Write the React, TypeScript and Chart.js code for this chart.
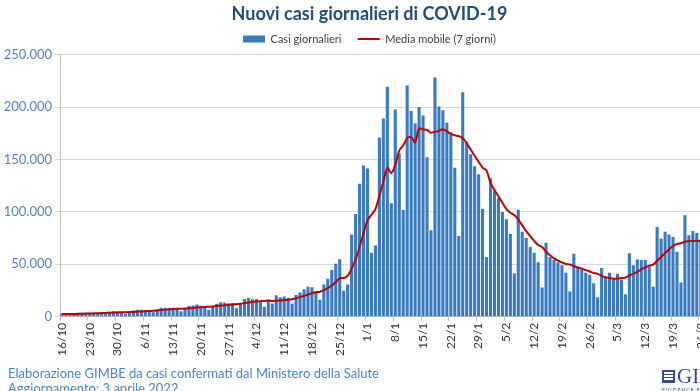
import React, { useEffect, useRef } from 'react';
import { Chart, registerables } from 'chart.js';

Chart.register(...registerables);

// Casi giornalieri (16/10/2021 - 2/4/2022)
const casiOttobre = [2983, 2437, 1597, 2697, 3702, 3794, 3882, 3725, 3154, 2535, 3655, 4598, 4866, 5335, 4878, 3954];
const casiNovembre = [2818, 4407, 5905, 6559, 6764, 6145, 5817, 4197, 6902, 8516, 8569, 8544, 8516, 7569, 5144, 7698, 10172, 10638, 11555, 10544, 9709, 6404, 10047, 12448, 13764, 13686, 12877, 12932, 7975, 12764];
const casiDicembre = [16806, 17959, 16632, 17010, 15021, 9503, 15756, 12527, 20497, 18600, 19215, 17938, 12712, 20677, 23195, 26109, 28632, 28064, 24259, 16213, 30798, 36293, 44595, 50599, 54762, 24883, 30810, 78313, 98030, 126888, 144243];
const casiGennaio = [141262, 61046, 68052, 170844, 189109, 219441, 108304, 197552, 155659, 101762, 220532, 196224, 184615, 200000, 192000, 152000, 82500, 228179, 200500, 197000, 185000, 176000, 142000, 77000, 214000, 167000, 155000, 143500, 136000, 103000, 57000];
const casiFebbraio = [132000, 120000, 113000, 100000, 93000, 79000, 41500, 102000, 81000, 75000, 66500, 61000, 52000, 28000, 70600, 57000, 54000, 52000, 49000, 42000, 24000, 60000, 48000, 46000, 42000, 40000, 32000, 18500];
const casiMarzo = [46500, 38000, 42000, 37000, 41000, 35500, 21500, 60500, 49000, 54500, 54000, 54000, 48000, 28500, 85500, 74500, 81000, 78500, 76000, 62000, 32600, 96700, 77700, 81800, 79900, 73400, 59600, 30700, 99500, 83600, 80000];
const casiAprile = [74700, 70800];

// Media mobile a 7 giorni
const mediaOttobre = [2537, 2560, 2526, 2555, 2688, 2849, 3013, 3119, 3222, 3356, 3492, 3620, 3774, 3981, 4146, 4260];
const mediaNovembre = [4301, 4408, 4595, 4837, 5041, 5222, 5488, 5685, 6041, 6414, 6701, 6956, 7294, 7545, 7680, 7794, 8030, 8326, 8756, 9046, 9351, 9531, 9867, 10192, 10639, 10943, 11276, 11737, 11961, 12349];
const mediaDicembre = [12972, 13571, 13992, 14583, 14881, 15099, 15527, 14915, 15278, 15559, 15874, 16291, 16749, 17452, 18976, 19778, 21211, 22475, 23378, 23878, 25324, 27195, 29836, 32974, 36788, 36878, 38963, 45751, 54570, 66326, 79704];
const mediaGennaio = [92061, 97227, 102548, 115766, 128778, 142000, 136865, 144907, 158423, 163239, 170337, 171353, 166378, 179478, 178685, 178162, 175410, 176503, 177113, 178883, 176740, 174454, 173026, 172240, 170214, 165429, 159429, 153500, 147786, 142214, 139357];
const mediaFebbraio = [127643, 120929, 114929, 108714, 102571, 99143, 96929, 92643, 87071, 81643, 76857, 72286, 68429, 66500, 62014, 58586, 55586, 53514, 51800, 50371, 49800, 48286, 47000, 45857, 44429, 43143, 41714, 40929];
const mediaMarzo = [39000, 37571, 37000, 36286, 36429, 36929, 37357, 39357, 40929, 42714, 45143, 47000, 48786, 49786, 53357, 57000, 60786, 64286, 67429, 69429, 70014, 71614, 72071, 72186, 72386, 72014, 71671, 71400, 71800, 72643, 72386];
const mediaAprile = [71643, 71271];

// Etichette mostrate sull'asse X
const etichetteAsseX = ['16/10', '23/10', '30/10', '6/11', '13/11', '20/11', '27/11', '4/12', '11/12', '18/12', '25/12', '1/1', '8/1', '15/1', '22/1', '29/1', '5/2', '12/2', '19/2', '26/2', '5/3', '12/3', '19/3', '26/3', '2/4'];

const mesi = [
  { mese: 10, primo: 16, casi: casiOttobre, media: mediaOttobre },
  { mese: 11, primo: 1, casi: casiNovembre, media: mediaNovembre },
  { mese: 12, primo: 1, casi: casiDicembre, media: mediaDicembre },
  { mese: 1, primo: 1, casi: casiGennaio, media: mediaGennaio },
  { mese: 2, primo: 1, casi: casiFebbraio, media: mediaFebbraio },
  { mese: 3, primo: 1, casi: casiMarzo, media: mediaMarzo },
  { mese: 4, primo: 1, casi: casiAprile, media: mediaAprile },
];

const categorie: string[] = [];
const casi: number[] = [];
const media: number[] = [];
mesi.forEach((m) => {
  m.casi.forEach((v, i) => {
    categorie.push(`${m.primo + i}/${m.mese}`);
    casi.push(v);
    media.push(m.media[i]);
  });
});

const formatta = (v: number) => String(v).replace(/\B(?=(\d{3})+(?!\d))/g, '.');

export default function App() {
  const ref = useRef<HTMLCanvasElement | null>(null);

  useEffect(() => {
    if (!ref.current) return;
    const chart = new Chart(ref.current, {
      type: 'bar',
      data: {
        labels: categorie,
        datasets: [
          {
            type: 'bar',
            label: 'Casi giornalieri    ',
            data: casi,
            backgroundColor: '#3A7BC0',
            borderWidth: 0,
            barPercentage: 0.78,
            categoryPercentage: 1,
            pointStyle: 'rect',
            order: 2,
          } as any,
          {
            type: 'line',
            label: 'Media mobile (7 giorni)',
            data: media,
            borderColor: '#C00000',
            backgroundColor: '#C00000',
            borderWidth: 2,
            pointRadius: 0,
            pointBorderWidth: 2,
            pointStyle: 'line',
            tension: 0.3,
            fill: false,
            order: 1,
          } as any,
        ],
      },
      options: {
        responsive: false,
        animation: false,
        layout: { padding: { left: 2, right: 8, top: 0, bottom: 33 } },
        plugins: {
          title: {
            display: true,
            text: 'Nuovi casi giornalieri di COVID-19',
            color: '#1F4E79',
            font: { family: 'Lato', size: 18, weight: 'bold' },
            padding: { top: 3, bottom: 4 },
          },
          legend: {
            display: true,
            labels: {
              usePointStyle: true,
              pointStyleWidth: 22,
              boxHeight: 7,
              color: '#404040',
              font: { family: 'Lato', size: 11 },
              padding: 5,
              sort: (a: any, b: any) => a.datasetIndex - b.datasetIndex,
            },
          },
          tooltip: { enabled: false },
        },
        scales: {
          x: {
            grid: {
              drawOnChartArea: false,
              tickLength: 4,
              color: (ctx: any) => (etichetteAsseX.includes(categorie[ctx.index]) ? '#BFBFBF' : 'rgba(0,0,0,0)'),
            },
            border: { color: '#BFBFBF' },
            ticks: {
              autoSkip: false,
              minRotation: 90,
              maxRotation: 90,
              padding: 2,
              color: '#333333',
              font: { family: 'Lato', size: 12 },
              callback: (_v: any, i: number) => (etichetteAsseX.includes(categorie[i]) ? categorie[i] : ''),
            },
          },
          y: {
            min: 0,
            max: 250000,
            ticks: {
              stepSize: 50000,
              padding: 3,
              color: '#5585C0',
              font: { family: 'Lato', size: 13 },
              callback: (v: any) => formatta(Number(v)),
            },
            grid: { color: '#D9D9D9', tickLength: 5 },
            border: { color: '#BFBFBF' },
            afterFit: (s: any) => {
              s.width = 58;
            },
          },
        },
      } as any,
    });
    return () => chart.destroy();
  }, []);

  return (
    <div
      style={{
        position: 'fixed',
        left: 0,
        top: 0,
        width: 700,
        height: 391,
        overflow: 'hidden',
        background: '#ffffff',
      }}
    >
      <canvas ref={ref} width={745} height={391} style={{ position: 'absolute', left: 0, top: 0 }} />
      <div
        style={{
          position: 'absolute',
          left: 8,
          top: 366,
          fontFamily: 'Lato',
          fontSize: 13,
          lineHeight: '15px',
          color: '#4A86C5',
          whiteSpace: 'nowrap',
        }}
      >
        <div>Elaborazione GIMBE da casi confermati dal Ministero della Salute</div>
        <div>Aggiornamento: 3 aprile 2022</div>
      </div>
      <div style={{ position: 'absolute', left: 662, top: 366, whiteSpace: 'nowrap' }}>
        <div style={{ display: 'flex', alignItems: 'center' }}>
          <div
            style={{
              width: 13,
              height: 13,
              border: '2px solid #2F4F8F',
              boxSizing: 'border-box',
              marginRight: 2,
              background: 'repeating-linear-gradient(0deg, #2F4F8F 0 1px, #ffffff 1px 3px)',
            }}
          />
          <span style={{ fontFamily: 'Liberation Serif', fontSize: 21, color: '#2F4F8F', lineHeight: '20px' }}>GIMBE</span>
        </div>
        <div style={{ fontFamily: 'Lato', fontSize: 5, color: '#2F4F8F', letterSpacing: 1, marginTop: 1 }}>
          EVIDENCE FOR HEALTH
        </div>
      </div>
    </div>
  );
}
